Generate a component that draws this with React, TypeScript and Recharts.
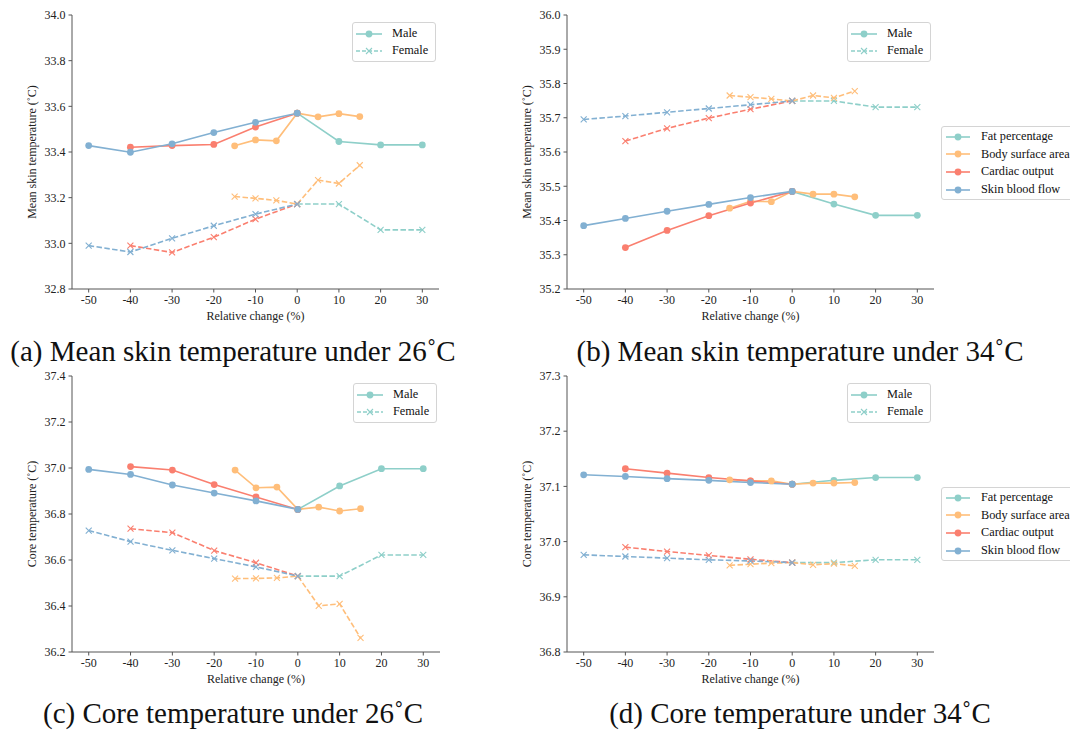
import { LineChart, Line, XAxis, YAxis, Legend } from "recharts";

// palette used in the figure
const TEAL = "#8ECFC9";
const ORANGE = "#FFBE7A";
const RED = "#FA7F6F";
const BLUE = "#82B0D2";
const SERIF = "'Liberation Serif', 'Times New Roman', serif";

const factorNames = ["Fat percentage", "Body surface area", "Cardiac output", "Skin blood flow"];
const factorColors = [TEAL, ORANGE, RED, BLUE];

// relative change (%) for each factor
const fatX = [0, 10, 20, 30];
const bsaX = [-15, -10, -5, 0, 5, 10, 15];
const coX = [-40, -30, -20, -10, 0];
const sbfX = [-50, -40, -30, -20, -10, 0];
const xTicks = [-50, -40, -30, -20, -10, 0, 10, 20, 30];

// (a) mean skin temperature, 26˚C
const aFatMale = [33.57, 33.446, 33.431, 33.431];
const aBsaMale = [33.427, 33.453, 33.449, 33.57, 33.554, 33.568, 33.555];
const aCoMale = [33.421, 33.428, 33.433, 33.509, 33.57];
const aSbfMale = [33.428, 33.399, 33.436, 33.485, 33.53, 33.57];
const aFatFemale = [33.172, 33.172, 33.059, 33.059];
const aBsaFemale = [33.205, 33.197, 33.188, 33.172, 33.277, 33.262, 33.342];
const aCoFemale = [32.99, 32.96, 33.027, 33.106, 33.172];
const aSbfFemale = [32.99, 32.962, 33.022, 33.077, 33.128, 33.172];
const aTicks = [32.8, 33.0, 33.2, 33.4, 33.6, 33.8, 34.0];

// (b) mean skin temperature, 34˚C
const bFatMale = [35.485, 35.448, 35.415, 35.415];
const bBsaMale = [35.436, 35.456, 35.455, 35.485, 35.477, 35.477, 35.469];
const bCoMale = [35.321, 35.371, 35.414, 35.451, 35.485];
const bSbfMale = [35.385, 35.406, 35.427, 35.447, 35.467, 35.485];
const bFatFemale = [35.749, 35.749, 35.731, 35.731];
const bBsaFemale = [35.765, 35.76, 35.755, 35.749, 35.765, 35.758, 35.778];
const bCoFemale = [35.632, 35.669, 35.699, 35.725, 35.749];
const bSbfFemale = [35.695, 35.705, 35.716, 35.727, 35.738, 35.749];
const bTicks = [35.2, 35.3, 35.4, 35.5, 35.6, 35.7, 35.8, 35.9, 36.0];

// (c) core temperature, 26˚C
const cFatMale = [36.82, 36.922, 36.997, 36.997];
const cBsaMale = [36.991, 36.914, 36.917, 36.82, 36.83, 36.813, 36.823];
const cCoMale = [37.006, 36.991, 36.928, 36.874, 36.82];
const cSbfMale = [36.994, 36.972, 36.926, 36.891, 36.857, 36.82];
const cFatFemale = [36.53, 36.53, 36.622, 36.622];
const cBsaFemale = [36.519, 36.52, 36.522, 36.53, 36.401, 36.409, 36.261];
const cCoFemale = [36.736, 36.719, 36.641, 36.588, 36.53];
const cSbfFemale = [36.728, 36.68, 36.642, 36.606, 36.57, 36.53];
const cTicks = [36.2, 36.4, 36.6, 36.8, 37.0, 37.2, 37.4];

// (d) core temperature, 34˚C
const dFatMale = [37.104, 37.111, 37.116, 37.116];
const dBsaMale = [37.112, 37.11, 37.11, 37.104, 37.106, 37.106, 37.107];
const dCoMale = [37.132, 37.124, 37.116, 37.11, 37.104];
const dSbfMale = [37.121, 37.118, 37.114, 37.111, 37.107, 37.104];
const dFatFemale = [36.962, 36.962, 36.967, 36.967];
const dBsaFemale = [36.957, 36.959, 36.961, 36.962, 36.958, 36.96, 36.956];
const dCoFemale = [36.99, 36.982, 36.975, 36.968, 36.962];
const dSbfFemale = [36.976, 36.973, 36.97, 36.967, 36.965, 36.962];
const dTicks = [36.8, 36.9, 37.0, 37.1, 37.2, 37.3];

const factorX = [fatX, bsaX, coX, sbfX];

const toPoints = (xs: number[], ys: number[]) => xs.map((x, i) => ({ x, y: ys[i] }));

const circleDot = (color: string) => (p: any) => (
  <circle key={`c-${p.index}`} cx={p.cx} cy={p.cy} r={3.4} fill={color} />
);

const crossDot = (color: string) => (p: any) => {
  const s = 3;
  return (
    <path
      key={`x-${p.index}`}
      d={`M${p.cx - s},${p.cy - s}L${p.cx + s},${p.cy + s}M${p.cx - s},${p.cy + s}L${p.cx + s},${p.cy - s}`}
      stroke={color}
      strokeWidth={1.1}
      fill="none"
    />
  );
};

const SPINE = "#555";
const DASH = "5.5 2.4";

const Sample = ({ color, dashed, width }: { color: string; dashed?: boolean; width: number }) => {
  const m = width / 2;
  return (
    <svg width={width} height={16} style={{ display: "block", flex: "none" }}>
      <line x1={0} y1={8} x2={width} y2={8} stroke={color} strokeWidth={1.6} strokeDasharray={dashed ? "4 2" : undefined} />
      {dashed ? (
        <path d={`M${m - 3},5L${m + 3},11M${m - 3},11L${m + 3},5`} stroke={color} strokeWidth={1.1} fill="none" />
      ) : (
        <circle cx={m} cy={8} r={3.4} fill={color} />
      )}
    </svg>
  );
};

const boxStyle: React.CSSProperties = {
  position: "absolute",
  background: "rgba(255,255,255,0.85)",
  border: "1px solid #d4d4d4",
  borderRadius: 3,
  fontFamily: SERIF,
  fontSize: 12.3,
  color: "#111",
  whiteSpace: "nowrap",
};

interface PanelProps {
  left: number;
  top: number;
  width: number;
  height: number;
  marginTop: number;
  marginRight: number;
  yWidth: number;
  xHeight: number;
  yDomain: [number, number];
  yTicks: number[];
  yLabel: string;
  male: number[][];
  female: number[][];
  side?: number; // top of the factor legend (chart coords)
}

const Panel = (p: PanelProps) => {
  const plotRight = p.width - p.marginRight;
  const plotTop = p.marginTop;

  const legendContent = () => (
    <div style={{ position: "relative", width: p.width, height: p.height, pointerEvents: "none" }}>
      <div style={{ ...boxStyle, left: plotRight - 87, top: plotTop + 7, width: 79, padding: "2px 0 2px 3px" }}>
        {["Male", "Female"].map((t, i) => (
          <div key={t} style={{ display: "flex", alignItems: "center", height: 17 }}>
            <Sample color={TEAL} dashed={i === 1} width={26} />
            <span style={{ marginLeft: 10 }}>{t}</span>
          </div>
        ))}
      </div>
      {p.side !== undefined && (
        <div style={{ ...boxStyle, left: plotRight + 7, top: p.side, width: 200, padding: "1px 0 1px 4px" }}>
          {factorNames.map((t, i) => (
            <div key={t} style={{ display: "flex", alignItems: "center", height: 17.6 }}>
              <Sample color={factorColors[i]} width={24} />
              <span style={{ marginLeft: 11 }}>{t}</span>
            </div>
          ))}
        </div>
      )}
    </div>
  );

  return (
    <div style={{ position: "absolute", left: p.left, top: p.top }}>
      <LineChart width={p.width} height={p.height} margin={{ top: p.marginTop, right: p.marginRight, bottom: 0, left: 0 }}>
        <XAxis
          dataKey="x"
          type="number"
          domain={[-54, 34]}
          ticks={xTicks}
          allowDataOverflow
          height={p.xHeight}
          stroke={SPINE}
          tickSize={3.5}
          tickMargin={3}
          tick={{ fontSize: 12, fill: "#222", fontFamily: SERIF }}
          label={{
            content: (lp: any) => {
              const vb = lp.viewBox;
              return (
                <text x={vb.x + vb.width / 2} y={vb.y + 31} textAnchor="middle" fontSize={12} fill="#222" fontFamily={SERIF}>
                  Relative change (%)
                </text>
              );
            },
          }}
        />
        <XAxis xAxisId="top" orientation="top" type="number" domain={[0, 1]} height={0} tick={false} tickLine={false} stroke={SPINE} />
        <YAxis
          type="number"
          domain={p.yDomain}
          ticks={p.yTicks}
          allowDataOverflow
          width={p.yWidth}
          stroke={SPINE}
          tickSize={3.5}
          tickMargin={3}
          tickFormatter={(v: number) => v.toFixed(1)}
          tick={{ fontSize: 12, fill: "#222", fontFamily: SERIF }}
          label={{
            content: (lp: any) => {
              const vb = lp.viewBox;
              const cx = vb.x + vb.width - 40;
              const cy = vb.y + vb.height / 2;
              return (
                <text
                  x={cx}
                  y={cy}
                  transform={`rotate(-90 ${cx} ${cy})`}
                  textAnchor="middle"
                  dominantBaseline="central"
                  fontSize={12}
                  fill="#222"
                  fontFamily={SERIF}
                >
                  {p.yLabel}
                </text>
              );
            },
          }}
        />
        <YAxis yAxisId="right" orientation="right" type="number" domain={[0, 1]} width={0} tick={false} tickLine={false} stroke={SPINE} />
        {factorNames.map((name, i) => [
          <Line
            key={`${name}-m`}
            data={toPoints(factorX[i], p.male[i])}
            dataKey="y"
            type="linear"
            stroke={factorColors[i]}
            strokeWidth={1.6}
            dot={circleDot(factorColors[i])}
            activeDot={false}
            legendType="none"
            isAnimationActive={false}
          />,
          <Line
            key={`${name}-f`}
            data={toPoints(factorX[i], p.female[i])}
            dataKey="y"
            type="linear"
            stroke={factorColors[i]}
            strokeWidth={1.6}
            strokeDasharray={DASH}
            dot={crossDot(factorColors[i])}
            activeDot={false}
            legendType="none"
            isAnimationActive={false}
          />,
        ])}
        <Legend
          layout="horizontal"
          verticalAlign="middle"
          align="center"
          content={legendContent}
          wrapperStyle={{ left: 0, top: 0, width: p.width, height: p.height, margin: 0 }}
        />
      </LineChart>
    </div>
  );
};

const captionStyle = (cx: number, baseline: number): React.CSSProperties => ({
  position: "absolute",
  left: cx - 300,
  width: 600,
  top: baseline - 26,
  textAlign: "center",
  fontFamily: SERIF,
  fontSize: 29,
  lineHeight: "32px",
  color: "#111",
  whiteSpace: "nowrap",
});

export default function App() {
  return (
    <div style={{ position: "absolute", left: 0, top: 0, width: 1070, height: 734, overflow: "hidden", background: "#fff" }}>
      <Panel
        left={0}
        top={0}
        width={500}
        height={330}
        marginTop={15}
        marginRight={61}
        yWidth={72}
        xHeight={41}
        yDomain={[32.8, 34.0]}
        yTicks={aTicks}
        yLabel="Mean skin temperature (˚C)"
        male={[aFatMale, aBsaMale, aCoMale, aSbfMale]}
        female={[aFatFemale, aBsaFemale, aCoFemale, aSbfFemale]}
      />
      <Panel
        left={500}
        top={0}
        width={570}
        height={330}
        marginTop={15}
        marginRight={136}
        yWidth={67}
        xHeight={41}
        yDomain={[35.2, 36.0]}
        yTicks={bTicks}
        yLabel="Mean skin temperature (˚C)"
        male={[bFatMale, bBsaMale, bCoMale, bSbfMale]}
        female={[bFatFemale, bBsaFemale, bCoFemale, bSbfFemale]}
        side={126}
      />
      <Panel
        left={0}
        top={360}
        width={500}
        height={330}
        marginTop={16}
        marginRight={60}
        yWidth={72}
        xHeight={38}
        yDomain={[36.2, 37.4]}
        yTicks={cTicks}
        yLabel="Core temperature (˚C)"
        male={[cFatMale, cBsaMale, cCoMale, cSbfMale]}
        female={[cFatFemale, cBsaFemale, cCoFemale, cSbfFemale]}
      />
      <Panel
        left={500}
        top={360}
        width={570}
        height={330}
        marginTop={16}
        marginRight={136}
        yWidth={67}
        xHeight={38}
        yDomain={[36.8, 37.3]}
        yTicks={dTicks}
        yLabel="Core temperature (˚C)"
        male={[dFatMale, dBsaMale, dCoMale, dSbfMale]}
        female={[dFatFemale, dBsaFemale, dCoFemale, dSbfFemale]}
        side={127}
      />
      <div style={captionStyle(233, 361)}>(a) Mean skin temperature under 26˚C</div>
      <div style={captionStyle(800, 361)}>(b) Mean skin temperature under 34˚C</div>
      <div style={captionStyle(233, 723)}>(c) Core temperature under 26˚C</div>
      <div style={captionStyle(800, 723)}>(d) Core temperature under 34˚C</div>
    </div>
  );
}
